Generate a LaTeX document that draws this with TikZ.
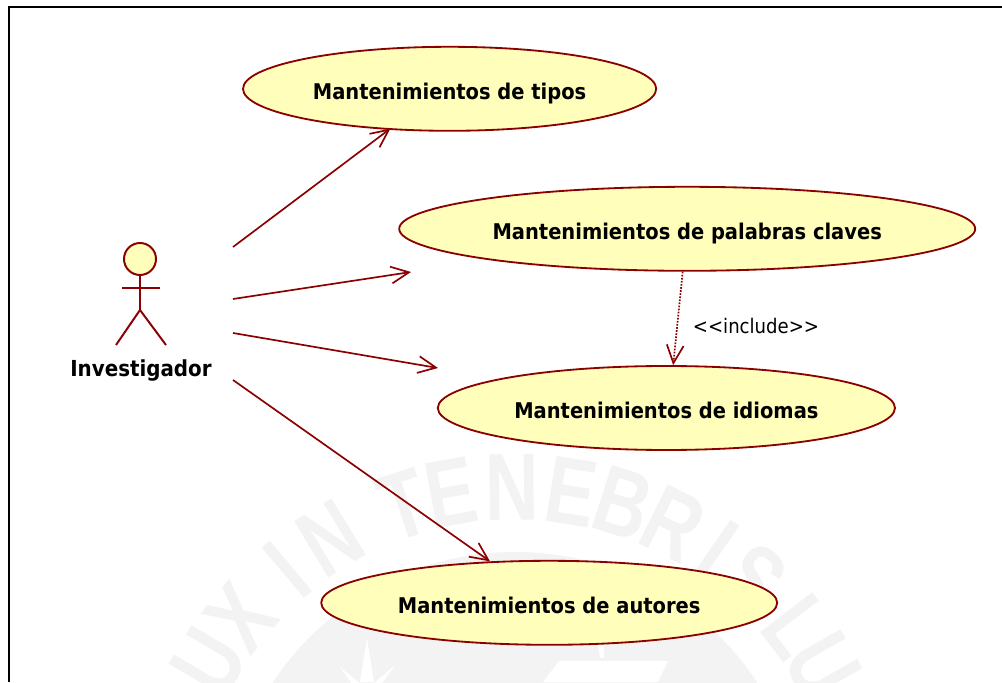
\documentclass[tikz,border=0pt]{standalone}
\usepackage{fontspec}
\setmainfont{DejaVu Sans Condensed}
\newfontfamily\sealfont{Liberation Sans}
\usetikzlibrary{arrows.meta,shapes.geometric}

\definecolor{umlline}{HTML}{8B0000}
\definecolor{umlfill}{HTML}{FFFFBB}
\definecolor{sealgray}{HTML}{F3F3F3}

\tikzset{
	usecase/.style={ellipse, draw=umlline, fill=umlfill, line width=1.3pt, inner sep=0pt, minimum height=2.1cm, text height=15.4pt, text depth=0pt, font=\fontsize{15.4pt}{17pt}\selectfont\bfseries},
	assoc/.style={draw=umlline, line width=1.2pt, -{Straight Barb[length=0.45cm,width=0.42cm]}},
	stick/.style={draw=umlline, line width=1.4pt},
	sealletter/.style={inner sep=0pt, text=sealgray, font=\fontsize{68pt}{68pt}\sealfont\bfseries}
}

\begin{document}
\begin{tikzpicture}
	\useasboundingbox (0, 0) rectangle (25.05, 17.05);

	% Sello de fondo
	\begin{scope}
		\clip (0, 0) rectangle (25.05, 17.05);
		\fill[sealgray] (12.875, -4) circle (7.25);
		\foreach \letra/\ang [count=\i] in {U/149.5, X/140.7, I/130, N/121.3, T/108.3, E/100.4, N/90.5, E/80.9, B/72.3, R/63.6, I/55.3, S/48, L/37.3, U/29.8}
			\node[sealletter, rotate=\ang-90, xscale=0.78] (sello\i) at ([shift={(12.875, -4)}] \ang:8.875) {\letra};
		% Estrella y libro
		\fill[white] (9.175, 1.1) -- (9.35, 0) -- (9, 0) -- cycle;
		\fill[white] (8.5, 0.375) -- (9.2, -0.2) -- (9.05, -0.4) -- cycle;
		\fill[white] (9.875, 0.425) -- (9.15, -0.2) -- (9.3, -0.4) -- cycle;
		\fill[white] (13.975, 0.525) -- (16.7, 0.525) -- (16.45, 0) -- (13.575, 0) -- cycle;
		\fill[white] (14.95, 0.925) -- (15.1, 0.925) -- (15.1, 0.6) -- (15, 0.6) -- cycle;
	\end{scope}

	% Marco
	\draw[line width=1.8pt] (0.225, 0) -- (0.225, 16.875) -- (25.05, 16.875);

	% Casos de uso
	\node[usecase, minimum width=10.33cm] (tipos) at (11.24, 14.83) {Mantenimientos de tipos};
	\node[usecase, minimum width=14.4cm] (palabras) at (17.18, 11.33) {Mantenimientos de palabras claves};
	\node[usecase, minimum width=11.43cm] (idiomas) at (16.66, 6.85) {Mantenimientos de idiomas};
	\node[usecase, minimum width=11.4cm] (autores) at (13.73, 1.98) {Mantenimientos de autores};

	% Actor
	\node[circle, stick, fill=umlfill, inner sep=0pt, minimum size=0.8cm] (cabeza) at (3.5, 10.575) {};
	\coordinate (cadera) at (3.5, 9.3);
	\coordinate (brazoA) at (3.05, 9.85);
	\coordinate (brazoB) at (4, 9.85);
	\coordinate (pieA) at (2.9, 8.425);
	\coordinate (pieB) at (4.15, 8.425);
	\draw[stick] (cabeza.south) -- (cadera);
	\draw[stick] (brazoA) -- (brazoB);
	\draw[stick] (pieA) -- (cadera) -- (pieB);
	\node[font=\fontsize{15.7pt}{17pt}\selectfont\bfseries] (investigador) at (3.525, 7.8) {Investigador};

	% Asociaciones
	\coordinate (salidaA) at (5.825, 10.875);
	\coordinate (salidaB) at (5.825, 9.575);
	\coordinate (salidaC) at (5.825, 8.725);
	\coordinate (salidaD) at (5.825, 7.55);
	\coordinate (llegadaB) at (10.275, 10.25);
	\coordinate (llegadaC) at (10.95, 7.85);
	\draw[assoc, shorten >=-1.5pt] (salidaA) -- (tipos.214.5);
	\draw[assoc] (salidaB) -- (llegadaB);
	\draw[assoc] (salidaC) -- (llegadaC);
	\draw[assoc] (salidaD) -- (autores.145.5);

	% Include
	\draw[assoc, densely dotted] (palabras.264.6) -- (idiomas.81.2);
	\node[font=\fontsize{14.3pt}{16pt}\selectfont] (incluye) at (18.9, 8.9) {<{}<include>{}>};
\end{tikzpicture}
\end{document}
